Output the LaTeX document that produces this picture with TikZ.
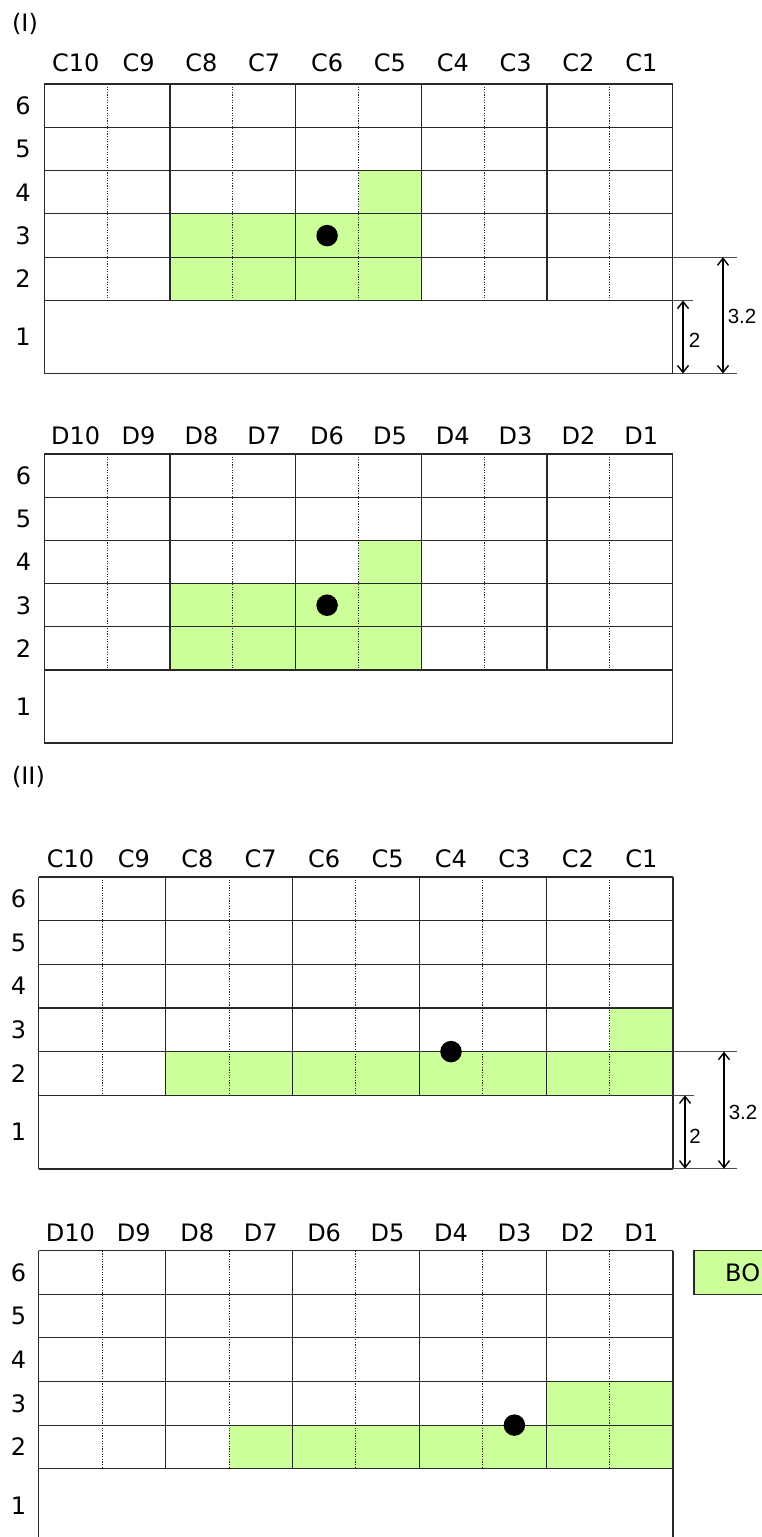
\documentclass[tikz,border=0pt]{standalone}
\usepackage{fontspec}
\setmainfont{DejaVu Sans}
\newfontfamily\arialf{Liberation Sans}
\usetikzlibrary{arrows.meta}
\definecolor{cellgreen}{RGB}{204,255,153}
\definecolor{gridline}{RGB}{40,40,40}
\tikzset{
  lbl/.style={font=\fontsize{24}{26}\selectfont, text=black, inner sep=0pt, anchor=base},
  hline/.style={draw=gridline, line width=1.1pt},
  dotline/.style={draw=gridline, line width=0.8pt, dash pattern=on 1.2pt off 1.4pt},
  ball/.style={circle, fill=black, minimum size=21.5pt, inner sep=0pt},
  dimarrow/.style={{Straight Barb[length=7pt,width=11pt,line width=1.4pt]}-{Straight Barb[length=7pt,width=11pt,line width=1.4pt]}, line width=1.6pt},
  ext/.style={draw=gray!60!black, line width=0.9pt},
  dimlbl/.style={font=\arialf\fontsize{20.5}{22}\selectfont, inner sep=0pt},
}
% #1 left #2 top #3 cw #4 rh #5 r1h #6 letter #7 rowlabel x #8 name prefix #9 column label offset
\newcommand\mygrid[9]{%
  \pgfmathsetmacro\gR{#2+5*#4}%
  \pgfmathsetmacro\gB{\gR+#5}%
  \pgfmathsetmacro\gRt{#1+10*#3}%
  \foreach \ii in {0,...,5} {\draw[hline] (#1,{#2+\ii*#4}) -- (\gRt,{#2+\ii*#4});}
  \draw[hline] (#1,\gB) -- (\gRt,\gB);
  \draw[hline] (#1,#2) -- (#1,\gB);
  \draw[hline] (\gRt,#2) -- (\gRt,\gB);
  \foreach \jj in {2,4,6,8} {\draw[hline] ({#1+\jj*#3},#2) -- ({#1+\jj*#3},\gR);}
  \foreach \jj in {1,3,5,7,9} {\draw[dotline] ({#1+\jj*#3},#2) -- ({#1+\jj*#3},\gR);}
  \foreach \jj in {0,...,9} {\pgfmathtruncatemacro\cn{10-\jj}%
    \node[lbl] (#8c\cn) at ({#1+(\jj+0.5)*#3},{#2-#9+8.8}) {#6\cn};}
  \foreach \rr in {6,5,4,3,2} {\node[lbl] (#8r\rr) at (#7,{#2+(6.5-\rr)*#4+8.8}) {\rr};}
  \node[lbl] (#8r1) at (#7,{\gR+#5/2+8.8}) {1};
}
% #1 left #2 top #3 cw #4 rh #5 col index (0 = leftmost) #6 row
\newcommand\gcell[6]{%
  \fill[cellgreen] ({#1+#5*#3},{#2+(6-#6)*#4}) rectangle ++(#3,#4);
}
\begin{document}
\begin{tikzpicture}[x=1pt,y=-1pt]
\clip (0,0) rectangle (762,1537);
\fill[white] (0,0) rectangle (762,1537);

\node[lbl] (lblI) at (25,31) {(I)};
\node[lbl] (lblII) at (28.5,784) {(II)};

% ---------- Grid 1 ----------
\foreach \cc in {2,3,4,5} {\gcell{44.3}{84}{62.84}{43.3}{\cc}{2}\gcell{44.3}{84}{62.84}{43.3}{\cc}{3}}
\gcell{44.3}{84}{62.84}{43.3}{5}{4}
\mygrid{44.3}{84}{62.84}{43.3}{73}{C}{23}{a}{21.5}
\node[ball] (dotA) at (327.1,235.6) {};

% dimensions grid 1
\coordinate (a1l) at (672.7,257.2); \coordinate (a1r) at (737,257.2);
\coordinate (a2l) at (672.7,300.5); \coordinate (a2r) at (693,300.5);
\coordinate (a3l) at (672.7,373.5); \coordinate (a3r) at (737,373.5);
\draw[ext] (a1l) -- (a1r);
\draw[ext] (a2l) -- (a2r);
\draw[ext] (a3l) -- (a3r);
\coordinate (aS1) at (683,300.5); \coordinate (aS2) at (683,373.5);
\coordinate (aL1) at (723,257.2); \coordinate (aL2) at (723,373.5);
\draw[dimarrow] (aS1) -- (aS2);
\draw[dimarrow] (aL1) -- (aL2);
\node[dimlbl] (aD2) at (694.5,340) {2};
\node[dimlbl] (aD32) at (742,316) {3.2};

% ---------- Grid 2 ----------
\foreach \cc in {2,3,4,5} {\gcell{44.3}{454}{62.84}{43.2}{\cc}{2}\gcell{44.3}{454}{62.84}{43.2}{\cc}{3}}
\gcell{44.3}{454}{62.84}{43.2}{5}{4}
\mygrid{44.3}{454}{62.84}{43.2}{73}{D}{23.5}{b}{18}
\node[ball] (dotB) at (327.1,605.2) {};

% ---------- Grid 3 ----------
\foreach \cc in {2,...,9} {\gcell{38.7}{877}{63.43}{43.66}{\cc}{2}}
\gcell{38.7}{877}{63.43}{43.66}{9}{3}
\mygrid{38.7}{877}{63.43}{43.66}{73.7}{C}{18.5}{c}{18}
\node[ball] (dotC) at (451,1051.6) {};

% dimensions grid 3
\coordinate (c1l) at (673,1051.6); \coordinate (c1r) at (737,1051.6);
\coordinate (c2l) at (673,1095.3); \coordinate (c2r) at (694,1095.3);
\coordinate (c3l) at (673,1168.7); \coordinate (c3r) at (737,1168.7);
\draw[ext] (c1l) -- (c1r);
\draw[ext] (c2l) -- (c2r);
\draw[ext] (c3l) -- (c3r);
\coordinate (cS1) at (685,1095.3); \coordinate (cS2) at (685,1168.7);
\coordinate (cL1) at (724,1051.6); \coordinate (cL2) at (724,1168.7);
\draw[dimarrow] (cS1) -- (cS2);
\draw[dimarrow] (cL1) -- (cL2);
\node[dimlbl] (cD2) at (695,1136) {2};
\node[dimlbl] (cD32) at (743,1112) {3.2};

% ---------- Grid 4 ----------
\foreach \cc in {3,...,9} {\gcell{38.7}{1250.7}{63.43}{43.6}{\cc}{2}}
\gcell{38.7}{1250.7}{63.43}{43.6}{8}{3}
\gcell{38.7}{1250.7}{63.43}{43.6}{9}{3}
\mygrid{38.7}{1250.7}{63.43}{43.6}{73.7}{D}{18.5}{d}{18}
\node[ball] (dotD) at (514.4,1425.1) {};

% legend box (cut by the right edge)
\draw[hline, fill=cellgreen] (694,1250.7) rectangle (775,1294.3);
\node[lbl, anchor=base west] (legend) at (725,1281.8) {BO};
\end{tikzpicture}
\end{document}
